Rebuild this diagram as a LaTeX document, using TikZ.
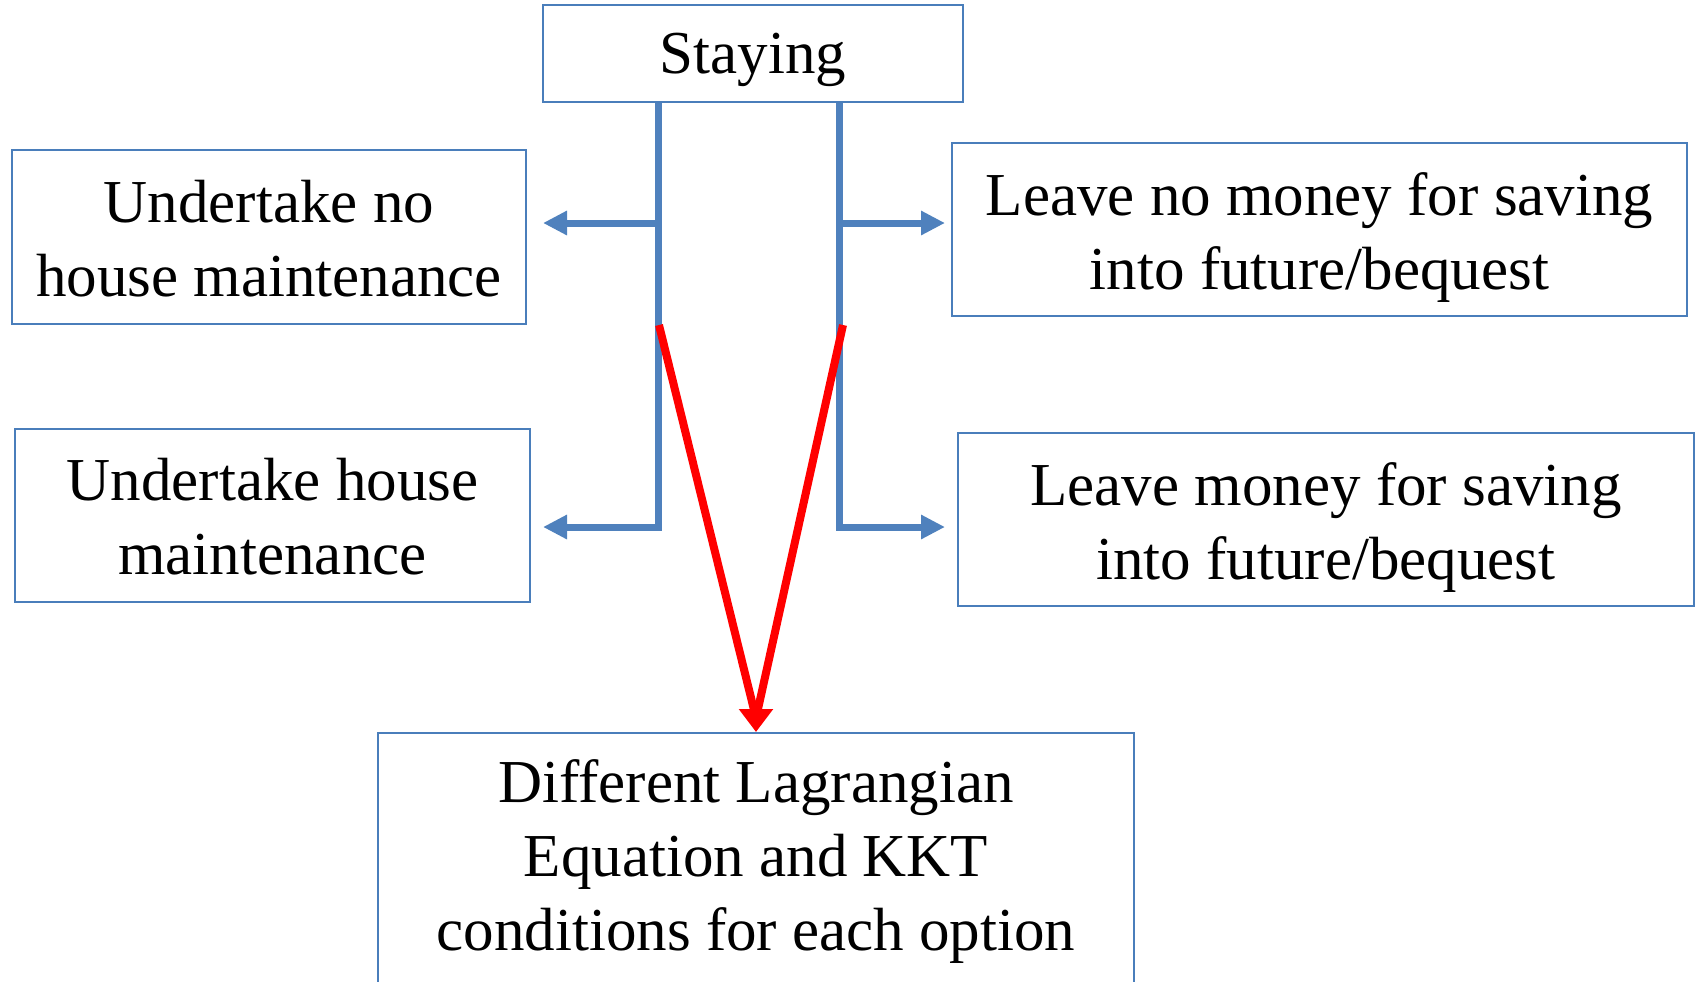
\documentclass[tikz,border=0pt]{standalone}
\usepackage{fontspec}
\setmainfont{Liberation Serif}
\usetikzlibrary{arrows.meta,calc}
\definecolor{boxblue}{HTML}{4A7EBB}
\definecolor{arrblue}{HTML}{4F81BD}
\definecolor{redarrow}{HTML}{FF0000}
\begin{document}
\begin{tikzpicture}[x=0.5pt,y=-0.5pt,
  box/.style={draw=boxblue, line width=1pt, inner sep=0pt},
  txt/.style={align=center, inner sep=0pt, font=\fontsize{30.5}{37}\selectfont},
  trunk/.style={draw=arrblue, line width=3.5pt},
  bluetip/.style={-{Triangle[length=12pt,width=11.5pt]}},
  redl/.style={draw=redarrow, line width=4pt}]
\useasboundingbox (0,0) rectangle (1698,981);
\clip (0,0) rectangle (1698,981);
% boxes
\node[box, minimum width=210pt, minimum height=48.5pt] (stay) at (753,53.5) {};
\node[box, minimum width=257pt, minimum height=87pt] (UL) at (269,237) {};
\node[box, minimum width=257.5pt, minimum height=86.5pt] (LL) at (272.5,515.5) {};
\node[box, minimum width=367.5pt, minimum height=86.5pt] (UR) at (1319.5,229.5) {};
\node[box, minimum width=368pt, minimum height=86.5pt] (LR) at (1326,519.5) {};
\node[box, minimum width=378pt, minimum height=150pt, anchor=north] (bot) at (756,732) {};
% texts
\node[txt] (stayt) at ($(stay.center)+(0,6.5)$) {Staying};
\node[txt] (ULt) at ($(UL.center)+(0,1.5)$) {Undertake no\\house maintenance};
\node[txt] (LLt) at ($(LL.center)+(0,1.5)$) {Undertake house\\maintenance};
\node[txt] (URt) at ($(UR.center)+(0,8)$) {Leave no money for saving\\into future/bequest};
\node[txt] (LRt) at ($(LR.center)+(0,8)$) {Leave money for saving\\into future/bequest};
\node[txt] (bott) at (756,862) {Different Lagrangian\\Equation and KKT\\conditions for each option};
% coordinates
\coordinate (tL) at ($(stay.south)+(-95,0)$);
\coordinate (tR) at ($(stay.south)+(86,0)$);
\coordinate (jL) at (658,223);
\coordinate (jR) at (839,223);
\coordinate (aUL) at (543,223);
\coordinate (aUR) at (945,223);
\coordinate (aLL) at (543,527);
\coordinate (aLR) at (945,527);
\coordinate (rL) at (659,325);
\coordinate (rR) at (843,325);
\coordinate (hb) at ($(bot.north)+(0,-14)$);
% blue connectors
\draw[trunk, bluetip] (tL) |- (aLL);
\draw[trunk, bluetip] (tR) |- (aLR);
\draw[trunk, bluetip] (jL) -- (aUL);
\draw[trunk, bluetip] (jR) -- (aUR);
% red connectors
\draw[redl] (rL) -- (hb);
\draw[redl] (rR) -- (hb);
\draw[redl, -{Triangle[length=11.5pt,width=16.5pt]}] (hb) -- (bot.north);
\end{tikzpicture}
\end{document}
